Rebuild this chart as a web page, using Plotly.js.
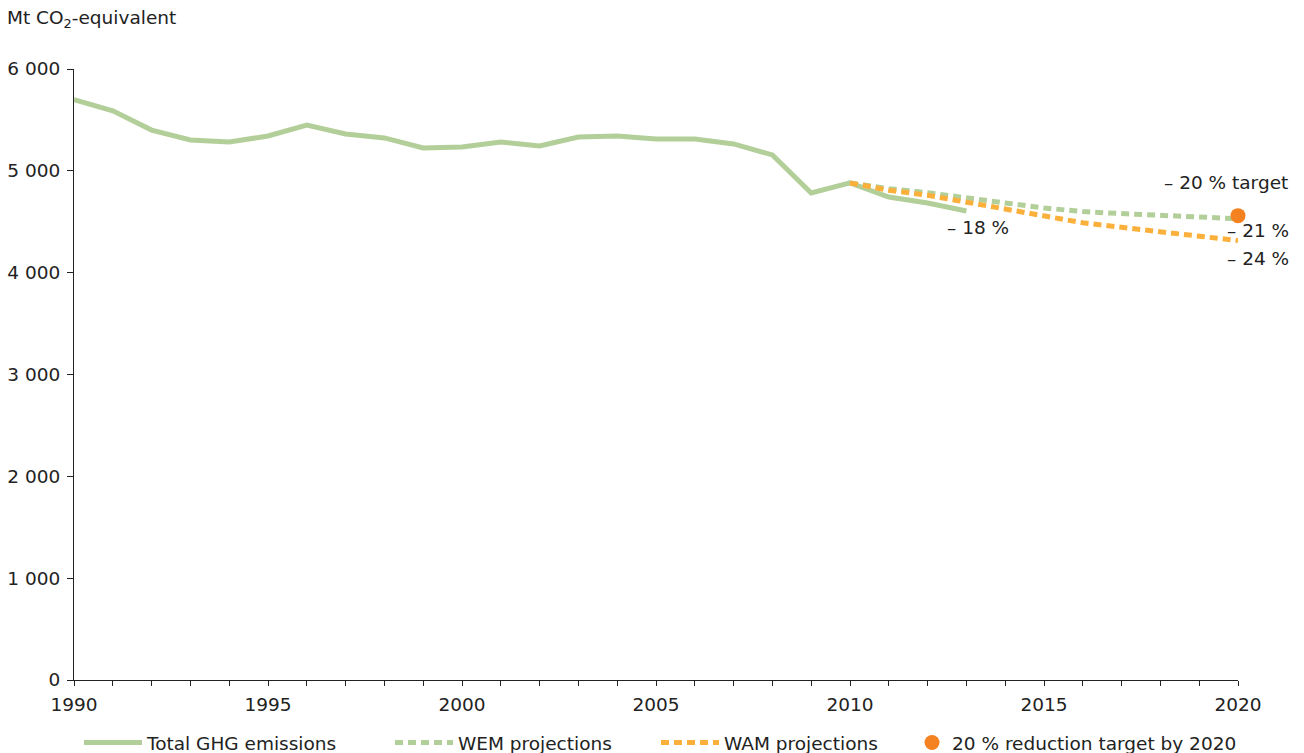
<!DOCTYPE html>
<html>
<head>
<meta charset="utf-8">
<script src="https://cdn.plot.ly/plotly-3.0.1.min.js"></script>
<style>html,body{margin:0;padding:0;background:#fff;}#chart{width:1304px;height:753px;}</style>
</head>
<body>
<div id="chart"></div>
<script>
const years = [1990,1991,1992,1993,1994,1995,1996,1997,1998,1999,2000,2001,2002,2003,2004,2005,2006,2007,2008,2009,2010,2011,2012,2013];
const totalGHG = [5700,5590,5400,5303,5283,5342,5450,5362,5323,5224,5234,5283,5244,5332,5342,5313,5313,5264,5156,4782,4881,4743,4684,4606];
const projYears = [2010,2011,2012,2013,2014,2015,2016,2017,2018,2019,2020];
const wem = [4881,4825,4785,4740,4685,4635,4600,4580,4562,4545,4530];
const wam = [4881,4810,4760,4690,4620,4550,4490,4445,4405,4360,4315];
const targetYear = [2020];
const targetValue = [4560];
const yTickVals = [0,1000,2000,3000,4000,5000,6000];
const yTickText = ['0','1 000','2 000','3 000','4 000','5 000','6 000'];
const labels = [
  {x:2013.3, y:4440, text:'– 18 %', anchor:'center'},
  {x:2021.34, y:4881, text:'– 20 % target', anchor:'right'},
  {x:2021.36, y:4419, text:'– 21 %', anchor:'right'},
  {x:2021.36, y:4144, text:'– 24 %', anchor:'right'}
];
const xStart = 1990, xEnd = 2020;

const FONT = 'DejaVu Sans, Verdana, sans-serif';
const FS = 18.5;
const TXT = '#222';
const green = '#b3cf99';
const orange = '#fbb03b';
const dotOrange = '#f58220';

const traces = [
  {x: years, y: totalGHG, name: 'Total GHG emissions', mode: 'lines', line: {color: green, width: 5}, cliponaxis: false, legend: 'legend'},
  {x: projYears, y: wem, name: 'WEM projections', mode: 'lines', line: {color: green, width: 5, dash: '8px,5px'}, cliponaxis: false, legend: 'legend2'},
  {x: projYears, y: wam, name: 'WAM projections', mode: 'lines', line: {color: orange, width: 5, dash: '8px,5px'}, cliponaxis: false, legend: 'legend3'},
  {x: targetYear, y: targetValue, name: '20 % reduction target by 2020', mode: 'markers', marker: {color: dotOrange, size: 15}, cliponaxis: false, legend: 'legend4'}
];

const plotL = 74, plotW = 1304 - 74 - 66;
function legendAt(px, itemwidth) {
  return {orientation: 'h', x: (px - plotL) / plotW, xanchor: 'left', y: -0.103, yanchor: 'middle', itemwidth: itemwidth, font: {family: FONT, size: FS, color: TXT}, bgcolor: 'rgba(0,0,0,0)'};
}

const layout = {
  width: 1304, height: 753,
  margin: {l: 74, r: 66, t: 69, b: 73, autoexpand: false},
  paper_bgcolor: '#fff', plot_bgcolor: '#fff',
  font: {family: FONT, size: FS, color: TXT},
  title: {text: 'Mt CO<sub>2</sub>-equivalent', x: 7/1304, xanchor: 'left', xref: 'container', y: 1 - 18/753, yanchor: 'middle', yref: 'container', font: {family: FONT, size: 18.5, color: TXT}},
  showlegend: true,
  legend: legendAt(79, 58),
  legend2: legendAt(390, 58),
  legend3: legendAt(656, 58),
  legend4: legendAt(912, 30),
  xaxis: {range: [xStart, xEnd], tickmode: 'linear', tick0: 1990, dtick: 5, ticks: 'outside', ticklen: 5, tickcolor: TXT, showline: true, linecolor: TXT, linewidth: 1, showgrid: false, zeroline: false, ticklabelstandoff: 3, tickfont: {family: FONT, size: FS, color: TXT},
    minor: {dtick: 1, ticks: 'outside', ticklen: 5, tickcolor: TXT, showgrid: false}},
  yaxis: {range: [0, 6000], tickmode: 'array', tickvals: yTickVals, ticktext: yTickText, ticks: 'outside', ticklen: 6, tickcolor: TXT, showline: true, linecolor: TXT, linewidth: 1, showgrid: false, zeroline: false, ticklabelstandoff: 3, tickfont: {family: FONT, size: FS, color: TXT}},
  annotations: labels.map(l => ({x: (l.x - xStart) / (xEnd - xStart), y: l.y, xref: 'paper', yref: 'y', text: l.text, showarrow: false, xanchor: l.anchor, yanchor: 'middle', font: {family: FONT, size: FS, color: TXT}}))
};

Plotly.newPlot('chart', traces, layout, {displayModeBar: false, responsive: false});
</script>
</body>
</html>
